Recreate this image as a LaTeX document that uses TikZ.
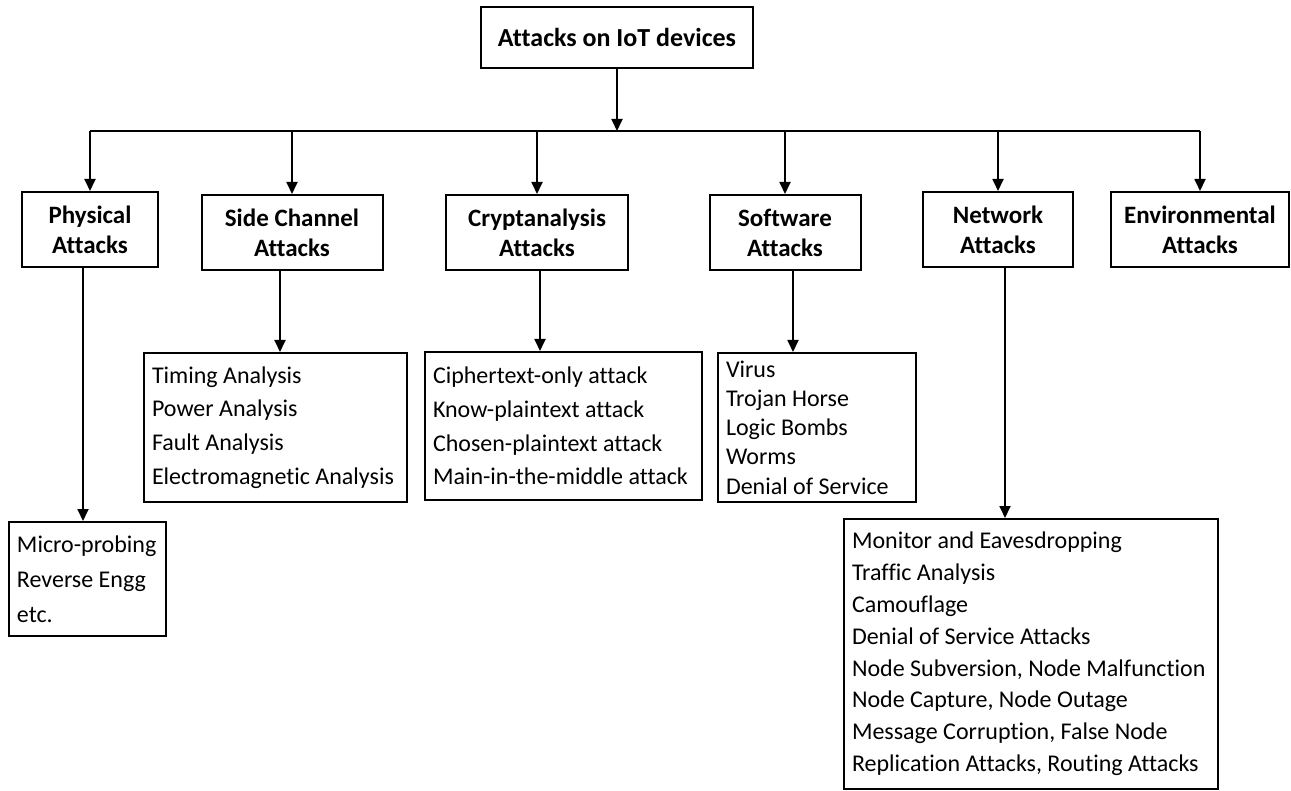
\documentclass[tikz,border=0pt]{standalone}
\usepackage{fontspec}
\setmainfont{Carlito}[Ligatures=NoCommon]
\usetikzlibrary{arrows.meta}

\begin{document}
\begin{tikzpicture}[x=0.5pt, y=-0.5pt,
  every node/.style={font=\fontsize{12}{15}\selectfont},
  hd/.style={draw, line width=1pt, align=flush center, minimum height=37.5pt, inner sep=1pt,
    font=\fontsize{12.5}{15}\selectfont\bfseries},
  lst/.style={draw, line width=1pt, anchor=north west, align=flush left, inner xsep=4pt, inner ysep=1pt},
  arr/.style={line width=0.9pt, -{Triangle[length=6pt,width=5.5pt]}},
  bar/.style={line width=0.9pt}]
\useasboundingbox (0,0) rectangle (1291,791);
\node[hd, minimum width=136pt, minimum height=30.5pt, font=\fontsize{13}{15}\selectfont\bfseries]
  (root) at (617,37.5) {Attacks on IoT devices};
\coordinate (bus) at (617,131);
% second level
\node[hd, minimum width=68pt] (phys) at (90,229.5) {Physical\\Attacks};
\node[hd, minimum width=90.5pt] (side) at (292,232.5) {Side Channel\\Attacks};
\node[hd, minimum width=91pt] (crypt) at (537,232.5) {Cryptanalysis\\Attacks};
\node[hd, minimum width=75.5pt] (soft) at (785,232.5) {Software\\Attacks};
\node[hd, minimum width=75pt] (net) at (998,229.5) {Network\\Attacks};
\node[hd, minimum width=89pt] (env) at (1200,229.5) {Environmental\\Attacks};
% lists
\node[lst, text width=70.5pt, minimum height=57pt, font=\fontsize{12}{17.5}\selectfont]
  (physl) at (8,521) {Micro-probing\\Reverse Engg\\etc.};
\node[lst, text width=123.5pt, minimum height=74.5pt, font=\fontsize{12}{16.8}\selectfont]
  (sidel) at (143,352) {Timing Analysis\\Power Analysis\\Fault Analysis\\Electromagnetic Analysis};
\node[lst, text width=130.5pt, minimum height=74pt, font=\fontsize{12}{16.8}\selectfont]
  (cryptl) at (424,351) {Ciphertext-only attack\\Know-plaintext attack\\Chosen-plaintext attack\\Main-in-the-middle attack};
\node[lst, text width=91pt, minimum height=74.5pt, font=\fontsize{12}{14.6}\selectfont]
  (softl) at (717,352) {Virus\\Trojan Horse\\Logic Bombs\\Worms\\Denial of Service};
\node[lst, text width=179pt, minimum height=135pt, font=\fontsize{12}{15.9}\selectfont]
  (netl) at (843,518) {Monitor and Eavesdropping\\Traffic Analysis\\Camouflage\\Denial of Service Attacks\\Node Subversion, Node Malfunction\\Node Capture, Node Outage\\Message Corruption, False Node\\Replication Attacks, Routing Attacks};
% connectors
\draw[arr] (root) -- (bus);
\draw[bar] (phys |- bus) -- (env |- bus);
\draw[arr] (phys |- bus) -- (phys); \draw[arr] (side |- bus) -- (side);
\draw[arr] (crypt |- bus) -- (crypt); \draw[arr] (soft |- bus) -- (soft);
\draw[arr] (net |- bus) -- (net); \draw[arr] (env |- bus) -- (env);
\draw[arr] ([xshift=-3.5pt]phys.south) -- ([xshift=-3.5pt]phys.south |- physl.north);
\draw[arr] ([xshift=-6pt]side.south) -- ([xshift=-6pt]side.south |- sidel.north);
\draw[arr] ([xshift=1.5pt]crypt.south) -- ([xshift=1.5pt]crypt.south |- cryptl.north);
\draw[arr] ([xshift=4pt]soft.south) -- ([xshift=4pt]soft.south |- softl.north);
\draw[arr] ([xshift=3.5pt]net.south) -- ([xshift=3.5pt]net.south |- netl.north);
\end{tikzpicture}
\end{document}
